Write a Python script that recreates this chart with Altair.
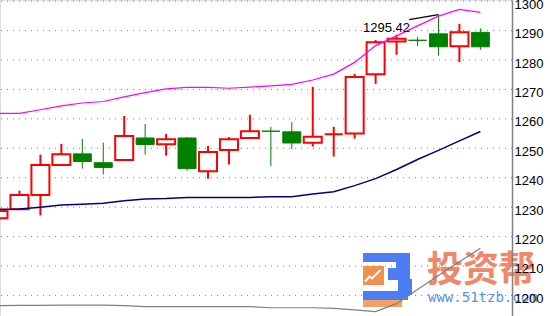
import altair as alt
import pandas as pd

# ---- candle data ----
opens  = [1226.2, 1229.3, 1234.1, 1244.3, 1248.1, 1245.1, 1246.0, 1253.5, 1251.4, 1253.5, 1242.2, 1249.4,
          1253.5, 1255.8, 1255.6, 1251.9, 1254.8, 1255.0, 1275.2, 1286.3, 1286.7, 1288.9, 1284.7, 1289.4]
highs  = [1229.5, 1235.6, 1247.8, 1251.5, 1253.2, 1251.9, 1261.0, 1258.3, 1254.9, 1253.8, 1250.8, 1253.8,
          1261.4, 1257.3, 1258.9, 1270.9, 1257.3, 1275.3, 1286.8, 1288.6, 1287.8, 1295.42, 1292.3, 1290.8]
lows   = [1225.5, 1229.0, 1227.2, 1244.0, 1243.1, 1241.1, 1245.8, 1247.9, 1247.5, 1242.4, 1239.7, 1244.5,
          1253.3, 1243.9, 1249.8, 1250.6, 1247.2, 1253.3, 1271.9, 1281.8, 1284.7, 1281.5, 1279.3, 1283.5]
closes = [1228.7, 1234.1, 1244.3, 1248.0, 1245.5, 1243.5, 1254.2, 1251.3, 1253.1, 1243.1, 1248.7, 1253.1,
          1255.8, 1255.8, 1251.8, 1253.9, 1254.8, 1274.2, 1286.0, 1287.2, 1286.7, 1284.5, 1289.4, 1284.5]
direction = ["up", "up", "up", "up", "down", "down", "up", "down", "up", "down", "up", "up",
             "up", "down", "down", "up", "up", "up", "up", "up", "down", "down", "up", "down"]

# ---- Bollinger-type bands ----
upper  = [1261.9, 1261.9, 1263.1, 1264.4, 1265.4, 1265.9, 1267.5, 1268.9, 1270.2, 1270.7, 1270.7, 1270.4,
          1270.8, 1271.2, 1271.7, 1273.2, 1275.2, 1279.2, 1284.9, 1288.2, 1291.6, 1294.9, 1297.2, 1296.2]
middle = [1229.3, 1229.4, 1230.0, 1230.7, 1231.0, 1231.3, 1232.2, 1232.8, 1232.9, 1233.3, 1233.3, 1233.3,
          1233.3, 1233.5, 1233.5, 1234.5, 1235.2, 1237.3, 1239.7, 1242.8, 1246.2, 1249.3, 1252.5, 1255.7]
lower  = [1196.5, 1196.6, 1196.6, 1196.7, 1196.7, 1196.7, 1196.5, 1196.2, 1196.2, 1196.2, 1196.2, 1196.2,
          1196.2, 1195.8, 1195.8, 1195.8, 1195.6, 1195.1, 1194.5, 1197.2, 1202.0, 1206.8, 1211.4, 1216.0]

y_ticks = [1200, 1210, 1220, 1230, 1240, 1250, 1260, 1270, 1280, 1290, 1300]

peak_text = ["1295.42"]
peak_text_pos = [17.4, 1289.4]          # (bar index, price) of the label's left baseline
peak_line_x = [19.6, 21.0]
peak_line_y = [1293.7, 1295.42]

n = len(opens)
df = pd.DataFrame({"i": list(range(n)), "open": opens, "high": highs, "low": lows,
                   "close": closes, "dir": direction})
df["x1"] = df["i"] - 0.43
df["x2"] = df["i"] + 0.43
bands = pd.DataFrame({"i": list(range(n)), "upper": upper, "middle": middle, "lower": lower})
ticks = pd.DataFrame({"v": y_ticks})

xs = alt.Scale(domain=[0.0716, 24.51], nice=False, zero=False)
ys = alt.Scale(domain=[1193.0, 1300.4], nice=False, zero=False)

y_axis = alt.Axis(
    orient="right", values=y_ticks, grid=False, ticks=False, domain=True,
    domainColor="#808080", domainWidth=1.5, labelFont="Liberation Sans",
    labelFontSize=13, labelColor="black", labelPadding=2, labelOffset=3,
    labelFlush=False, labelOverlap=False, zindex=1, title=None, format="d")

def X(f):
    return alt.X(f, type="quantitative", scale=xs, axis=None)

def Y(f):
    return alt.Y(f, type="quantitative", scale=ys, axis=y_axis)

grid = alt.Chart(ticks).mark_rule(color="#808080", strokeWidth=1, strokeDash=[1, 5]).encode(y=Y("v"))

one = pd.DataFrame({"a": [0]})
blue = "#4C7DF2"
orange = "#F2914F"
def box(x1, x2, y1, y2, color):
    return alt.Chart(one).mark_rect(color=color).encode(
        x=alt.value(x1), x2=alt.value(x2), y=alt.value(y1), y2=alt.value(y2))

zig = pd.DataFrame({"px": [365, 369.5, 372, 380.5], "py": [281.5, 276.5, 278.5, 270]})
watermark = [
    box(363, 408, 253, 262, blue),
    box(396, 410, 253, 271, blue),
    box(388, 410, 268, 280, blue),
    box(398, 412, 279, 295, blue),
    box(363, 408, 291, 300, blue),
    box(363, 402, 300, 307, "#F3A163"),
    box(363, 384, 266, 285, orange),
    alt.Chart(zig).mark_line(color="white", strokeWidth=2).encode(
        x=alt.X("px:Q", scale=None), y=alt.Y("py:Q", scale=None)),
    alt.Chart(one).mark_text(font="Noto Sans CJK SC", fontSize=36, fontWeight="bold",
                             color="#F0876A", align="left", baseline="alphabetic").encode(
        x=alt.value(427), y=alt.value(282), text=alt.value("投资帮")),
    alt.Chart(one).mark_text(font="DejaVu Sans Mono", fontSize=14, color="#5B8FEF",
                             align="left", baseline="alphabetic").encode(
        x=alt.value(428), y=alt.value(302), text=alt.value("www.51tzb.com")),
]

up = df[df["dir"] == "up"]
dn = df[df["dir"] == "down"]

wick_up = alt.Chart(up).mark_rule(color="#FF0000", strokeWidth=2, clip=True).encode(
    x=X("i"), y=Y("low"), y2="high")
wick_dn = alt.Chart(dn).mark_rule(color="#008000", strokeWidth=1, clip=True).encode(
    x=X("i"), y=Y("low"), y2="high")
body_up = alt.Chart(up).mark_rect(fill="white", stroke="#FF0000", strokeWidth=2, clip=True).encode(
    x=X("x1"), x2="x2", y=Y("open"), y2="close")
body_dn = alt.Chart(dn).mark_rect(fill="#008000", stroke="#008000", strokeWidth=1, clip=True).encode(
    x=X("x1"), x2="x2", y=Y("open"), y2="close")

l_up = alt.Chart(bands).mark_line(color="#FF00FF", strokeWidth=1.2, clip=True).encode(x=X("i"), y=Y("upper"))
l_mid = alt.Chart(bands).mark_line(color="#000080", strokeWidth=1.5, clip=True).encode(x=X("i"), y=Y("middle"))
l_low = alt.Chart(bands).mark_line(color="#808080", strokeWidth=1.2, clip=True).encode(x=X("i"), y=Y("lower"))

peak_df = pd.DataFrame({"x": peak_line_x, "y": peak_line_y})
peak_line = alt.Chart(peak_df).mark_line(color="black", strokeWidth=1.2).encode(x=X("x"), y=Y("y"))
lab_df = pd.DataFrame({"x": [peak_text_pos[0]], "y": [peak_text_pos[1]], "t": peak_text})
peak_label = alt.Chart(lab_df).mark_text(font="Liberation Sans", fontSize=13, color="black",
                                         align="left", baseline="alphabetic").encode(
    x=X("x"), y=Y("y"), text="t:N")

chart = alt.layer(grid, *watermark, wick_up, wick_dn, body_up, body_dn,
                  l_up, l_mid, l_low, peak_line, peak_label).properties(
    width=512, height=316,
    autosize=alt.AutoSizeParams(type="none"),
    padding={"left": 0, "right": 38, "top": 0, "bottom": 0},
).configure_view(strokeWidth=0).configure(background="white")

chart.save("out.html", embed_options={"renderer": "svg", "actions": False})
